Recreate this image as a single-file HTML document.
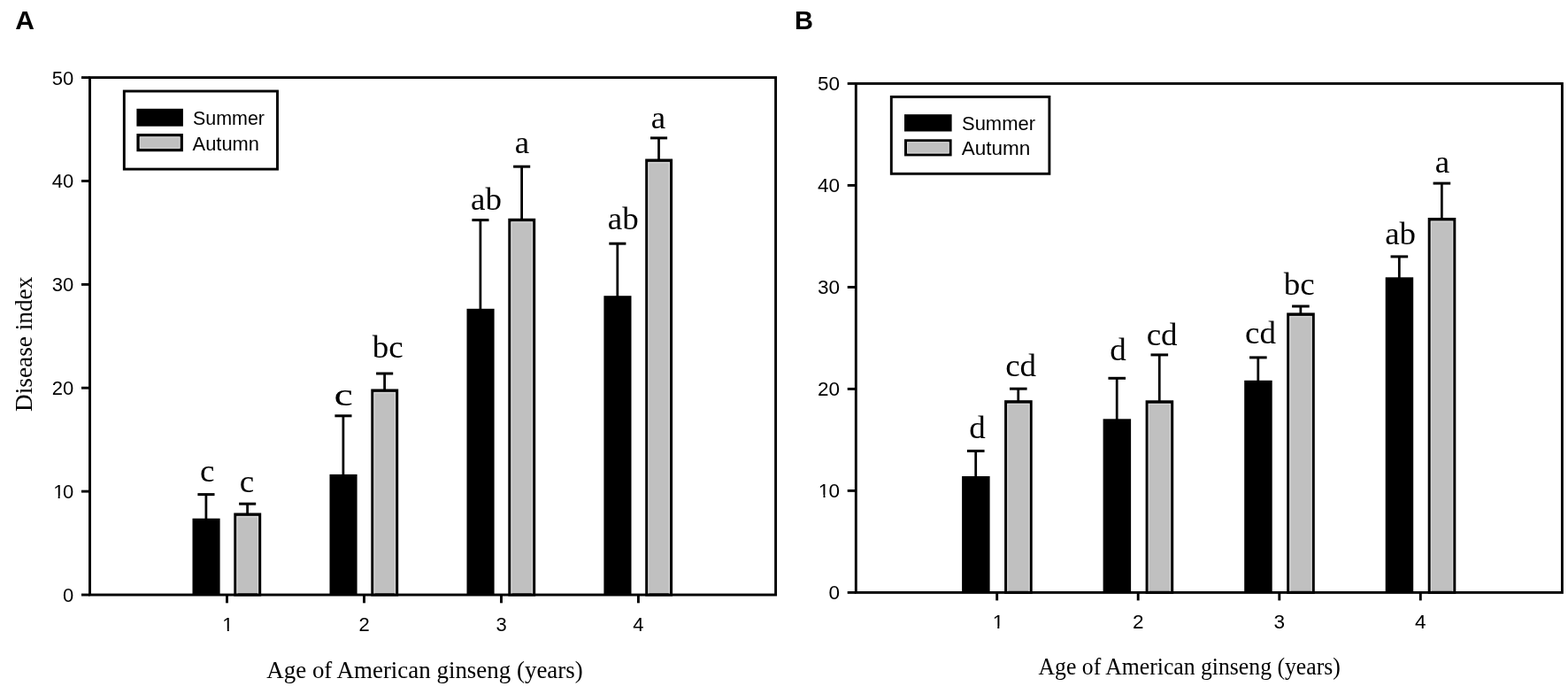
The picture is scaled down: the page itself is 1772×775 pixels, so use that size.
<!DOCTYPE html>
<html><head><meta charset="utf-8"><title>Disease index chart</title>
<style>html,body{margin:0;padding:0;background:#fff;}body{width:1772px;height:775px;overflow:hidden;}svg{display:block;}</style>
</head><body>
<svg width="1772" height="775" viewBox="0 0 1772 775">
<rect x="0" y="0" width="1772" height="775" fill="#fff"/>
<line x1="232.90" y1="586.70" x2="232.90" y2="558.60" stroke="#000" stroke-width="2.75"/>
<line x1="223.40" y1="558.60" x2="242.50" y2="558.60" stroke="#000" stroke-width="3.0"/>
<line x1="279.60" y1="580.50" x2="279.60" y2="569.20" stroke="#000" stroke-width="2.75"/>
<line x1="270.10" y1="569.20" x2="289.20" y2="569.20" stroke="#000" stroke-width="3.0"/>
<rect x="217.50" y="585.70" width="31.10" height="86.30" fill="#000"/>
<rect x="265.85" y="581.05" width="27.80" height="90.90" fill="#c0c0c0" stroke="#000" stroke-width="3.1"/>
<rect x="267.20" y="582.40" width="25.10" height="0.70" fill="#000"/>
<rect x="268.00" y="583.70" width="23.50" height="88.30" fill="none" stroke="#d8d8d8" stroke-width="1.2"/>
<line x1="387.90" y1="536.90" x2="387.90" y2="469.80" stroke="#000" stroke-width="2.75"/>
<line x1="378.40" y1="469.80" x2="397.50" y2="469.80" stroke="#000" stroke-width="3.0"/>
<line x1="434.60" y1="440.50" x2="434.60" y2="422.00" stroke="#000" stroke-width="2.75"/>
<line x1="425.10" y1="422.00" x2="444.20" y2="422.00" stroke="#000" stroke-width="3.0"/>
<rect x="372.50" y="535.90" width="31.10" height="136.10" fill="#000"/>
<rect x="420.85" y="441.05" width="27.80" height="230.90" fill="#c0c0c0" stroke="#000" stroke-width="3.1"/>
<rect x="422.20" y="442.40" width="25.10" height="0.70" fill="#000"/>
<rect x="423.00" y="443.70" width="23.50" height="228.30" fill="none" stroke="#d8d8d8" stroke-width="1.2"/>
<line x1="542.90" y1="349.80" x2="542.90" y2="248.60" stroke="#000" stroke-width="2.75"/>
<line x1="533.40" y1="248.60" x2="552.50" y2="248.60" stroke="#000" stroke-width="3.0"/>
<line x1="589.60" y1="247.80" x2="589.60" y2="188.20" stroke="#000" stroke-width="2.75"/>
<line x1="580.10" y1="188.20" x2="599.20" y2="188.20" stroke="#000" stroke-width="3.0"/>
<rect x="527.50" y="348.80" width="31.10" height="323.20" fill="#000"/>
<rect x="575.85" y="248.35" width="27.80" height="423.60" fill="#c0c0c0" stroke="#000" stroke-width="3.1"/>
<rect x="577.20" y="249.70" width="25.10" height="0.70" fill="#000"/>
<rect x="578.00" y="251.00" width="23.50" height="421.00" fill="none" stroke="#d8d8d8" stroke-width="1.2"/>
<line x1="697.80" y1="335.20" x2="697.80" y2="275.20" stroke="#000" stroke-width="2.75"/>
<line x1="688.30" y1="275.20" x2="707.40" y2="275.20" stroke="#000" stroke-width="3.0"/>
<line x1="744.50" y1="180.50" x2="744.50" y2="155.90" stroke="#000" stroke-width="2.75"/>
<line x1="735.00" y1="155.90" x2="754.10" y2="155.90" stroke="#000" stroke-width="3.0"/>
<rect x="682.40" y="334.20" width="31.10" height="337.80" fill="#000"/>
<rect x="730.75" y="181.05" width="27.80" height="490.90" fill="#c0c0c0" stroke="#000" stroke-width="3.1"/>
<rect x="732.10" y="182.40" width="25.10" height="0.70" fill="#000"/>
<rect x="732.90" y="183.70" width="23.50" height="488.30" fill="none" stroke="#d8d8d8" stroke-width="1.2"/>
<rect x="101.50" y="87.60" width="775.10" height="584.40" fill="none" stroke="#000" stroke-width="2.9"/>
<line x1="92.00" y1="672.00" x2="101.50" y2="672.00" stroke="#000" stroke-width="2.9"/>
<text x="83.20" y="679.90" font-family='"Liberation Sans", Arial, sans-serif' font-size="22" font-weight="normal" text-anchor="end" >0</text>
<line x1="92.00" y1="555.12" x2="101.50" y2="555.12" stroke="#000" stroke-width="2.9"/>
<text x="58.73" y="563.02" font-family='"Liberation Sans", Arial, sans-serif' font-size="22" font-weight="normal" text-anchor="start" dx="1.4 -1.4">10</text>
<rect x="60.21" y="560.28" width="5.46" height="3.74" fill="#fff"/>
<rect x="67.61" y="560.28" width="4.88" height="3.74" fill="#fff"/>
<line x1="92.00" y1="438.24" x2="101.50" y2="438.24" stroke="#000" stroke-width="2.9"/>
<text x="83.20" y="446.14" font-family='"Liberation Sans", Arial, sans-serif' font-size="22" font-weight="normal" text-anchor="end" >20</text>
<line x1="92.00" y1="321.36" x2="101.50" y2="321.36" stroke="#000" stroke-width="2.9"/>
<text x="83.20" y="329.26" font-family='"Liberation Sans", Arial, sans-serif' font-size="22" font-weight="normal" text-anchor="end" >30</text>
<line x1="92.00" y1="204.48" x2="101.50" y2="204.48" stroke="#000" stroke-width="2.9"/>
<text x="83.20" y="212.38" font-family='"Liberation Sans", Arial, sans-serif' font-size="22" font-weight="normal" text-anchor="end" >40</text>
<line x1="92.00" y1="87.60" x2="101.50" y2="87.60" stroke="#000" stroke-width="2.9"/>
<text x="83.20" y="95.50" font-family='"Liberation Sans", Arial, sans-serif' font-size="22" font-weight="normal" text-anchor="end" >50</text>
<line x1="256.50" y1="672.00" x2="256.50" y2="681.30" stroke="#000" stroke-width="2.9"/>
<text x="257.40" y="713.20" font-family='"Liberation Sans", Arial, sans-serif' font-size="22" font-weight="normal" text-anchor="middle" >1</text>
<rect x="251.36" y="710.46" width="5.46" height="3.74" fill="#fff"/>
<rect x="258.76" y="710.46" width="4.88" height="3.74" fill="#fff"/>
<line x1="411.50" y1="672.00" x2="411.50" y2="681.30" stroke="#000" stroke-width="2.9"/>
<text x="411.50" y="713.20" font-family='"Liberation Sans", Arial, sans-serif' font-size="22" font-weight="normal" text-anchor="middle" >2</text>
<line x1="566.50" y1="672.00" x2="566.50" y2="681.30" stroke="#000" stroke-width="2.9"/>
<text x="566.50" y="713.20" font-family='"Liberation Sans", Arial, sans-serif' font-size="22" font-weight="normal" text-anchor="middle" >3</text>
<line x1="721.40" y1="672.00" x2="721.40" y2="681.30" stroke="#000" stroke-width="2.9"/>
<text x="721.40" y="713.20" font-family='"Liberation Sans", Arial, sans-serif' font-size="22" font-weight="normal" text-anchor="middle" >4</text>
<rect x="140.30" y="103.00" width="173.20" height="88.10" fill="#fff" stroke="#000" stroke-width="2.9"/>
<rect x="154.40" y="122.80" width="52.50" height="19.90" fill="#000"/>
<rect x="156.10" y="152.70" width="49.10" height="16.80" fill="#c0c0c0" stroke="#000" stroke-width="3.4"/>
<rect x="158.30" y="154.90" width="44.70" height="12.40" fill="none" stroke="#dadada" stroke-width="1.0"/>
<text x="218.00" y="141.00" font-family='"Liberation Sans", Arial, sans-serif' font-size="21.5" font-weight="normal" text-anchor="start" textLength="81.0" lengthAdjust="spacingAndGlyphs">Summer</text>
<text x="217.60" y="169.80" font-family='"Liberation Sans", Arial, sans-serif' font-size="21.5" font-weight="normal" text-anchor="start" textLength="75.3" lengthAdjust="spacingAndGlyphs">Autumn</text>
<text x="0" y="0" transform="translate(234.15 543.60) scale(1.0 0.95)" font-family='"Liberation Serif", "Times New Roman", serif' font-size="37" text-anchor="middle">c</text>
<text x="0" y="0" transform="translate(279.05 555.60) scale(1.0 0.95)" font-family='"Liberation Serif", "Times New Roman", serif' font-size="37" text-anchor="middle">c</text>
<text x="0" y="0" transform="translate(388.15 458.00) scale(1.3 0.98)" font-family='"Liberation Serif", "Times New Roman", serif' font-size="37" text-anchor="middle">c</text>
<text x="0" y="0" transform="translate(438.15 403.90) scale(1.0 0.95)" font-family='"Liberation Serif", "Times New Roman", serif' font-size="37" text-anchor="middle">bc</text>
<text x="0" y="0" transform="translate(549.55 236.70) scale(1.0 0.95)" font-family='"Liberation Serif", "Times New Roman", serif' font-size="37" text-anchor="middle">ab</text>
<text x="0" y="0" transform="translate(589.85 173.30) scale(1.0 0.95)" font-family='"Liberation Serif", "Times New Roman", serif' font-size="37" text-anchor="middle">a</text>
<text x="0" y="0" transform="translate(704.25 258.60) scale(1.0 0.95)" font-family='"Liberation Serif", "Times New Roman", serif' font-size="37" text-anchor="middle">ab</text>
<text x="0" y="0" transform="translate(743.85 145.40) scale(1.0 0.95)" font-family='"Liberation Serif", "Times New Roman", serif' font-size="37" text-anchor="middle">a</text>
<text x="17.20" y="33.40" font-family='"Liberation Sans", Arial, sans-serif' font-size="30" font-weight="bold" text-anchor="start" >A</text>
<text x="301.30" y="765.70" font-family='"Liberation Serif", "Times New Roman", serif' font-size="27" font-weight="normal" text-anchor="start" textLength="357.4" lengthAdjust="spacingAndGlyphs">Age of American ginseng (years)</text>
<line x1="1102.70" y1="539.00" x2="1102.70" y2="509.50" stroke="#000" stroke-width="2.75"/>
<line x1="1092.95" y1="509.50" x2="1112.55" y2="509.50" stroke="#000" stroke-width="3.0"/>
<line x1="1150.75" y1="453.20" x2="1150.75" y2="439.20" stroke="#000" stroke-width="2.75"/>
<line x1="1141.00" y1="439.20" x2="1160.60" y2="439.20" stroke="#000" stroke-width="3.0"/>
<rect x="1087.10" y="538.00" width="31.50" height="131.40" fill="#000"/>
<rect x="1136.65" y="453.75" width="28.50" height="215.60" fill="#c0c0c0" stroke="#000" stroke-width="3.1"/>
<rect x="1138.00" y="455.10" width="25.80" height="0.70" fill="#000"/>
<rect x="1138.80" y="456.40" width="24.20" height="213.00" fill="none" stroke="#d8d8d8" stroke-width="1.2"/>
<line x1="1262.20" y1="474.30" x2="1262.20" y2="427.30" stroke="#000" stroke-width="2.75"/>
<line x1="1252.45" y1="427.30" x2="1272.05" y2="427.30" stroke="#000" stroke-width="3.0"/>
<line x1="1310.25" y1="453.30" x2="1310.25" y2="400.90" stroke="#000" stroke-width="2.75"/>
<line x1="1300.50" y1="400.90" x2="1320.10" y2="400.90" stroke="#000" stroke-width="3.0"/>
<rect x="1246.60" y="473.30" width="31.50" height="196.10" fill="#000"/>
<rect x="1296.15" y="453.85" width="28.50" height="215.50" fill="#c0c0c0" stroke="#000" stroke-width="3.1"/>
<rect x="1297.50" y="455.20" width="25.80" height="0.70" fill="#000"/>
<rect x="1298.30" y="456.50" width="24.20" height="212.90" fill="none" stroke="#d8d8d8" stroke-width="1.2"/>
<line x1="1421.80" y1="430.80" x2="1421.80" y2="403.90" stroke="#000" stroke-width="2.75"/>
<line x1="1412.05" y1="403.90" x2="1431.65" y2="403.90" stroke="#000" stroke-width="3.0"/>
<line x1="1469.85" y1="354.40" x2="1469.85" y2="346.00" stroke="#000" stroke-width="2.75"/>
<line x1="1460.10" y1="346.00" x2="1479.70" y2="346.00" stroke="#000" stroke-width="3.0"/>
<rect x="1406.20" y="429.80" width="31.50" height="239.60" fill="#000"/>
<rect x="1455.75" y="354.95" width="28.50" height="314.40" fill="#c0c0c0" stroke="#000" stroke-width="3.1"/>
<rect x="1457.10" y="356.30" width="25.80" height="0.70" fill="#000"/>
<rect x="1457.90" y="357.60" width="24.20" height="311.80" fill="none" stroke="#d8d8d8" stroke-width="1.2"/>
<line x1="1581.30" y1="314.30" x2="1581.30" y2="289.90" stroke="#000" stroke-width="2.75"/>
<line x1="1571.55" y1="289.90" x2="1591.15" y2="289.90" stroke="#000" stroke-width="3.0"/>
<line x1="1629.35" y1="247.00" x2="1629.35" y2="207.10" stroke="#000" stroke-width="2.75"/>
<line x1="1619.60" y1="207.10" x2="1639.20" y2="207.10" stroke="#000" stroke-width="3.0"/>
<rect x="1565.70" y="313.30" width="31.50" height="356.10" fill="#000"/>
<rect x="1615.25" y="247.55" width="28.50" height="421.80" fill="#c0c0c0" stroke="#000" stroke-width="3.1"/>
<rect x="1616.60" y="248.90" width="25.80" height="0.70" fill="#000"/>
<rect x="1617.40" y="250.20" width="24.20" height="419.20" fill="none" stroke="#d8d8d8" stroke-width="1.2"/>
<rect x="967.30" y="94.40" width="798.10" height="575.00" fill="none" stroke="#000" stroke-width="2.9"/>
<line x1="957.70" y1="669.40" x2="967.30" y2="669.40" stroke="#000" stroke-width="2.9"/>
<text x="949.00" y="676.70" font-family='"Liberation Sans", Arial, sans-serif' font-size="22.5" font-weight="normal" text-anchor="end" >0</text>
<line x1="957.70" y1="554.40" x2="967.30" y2="554.40" stroke="#000" stroke-width="2.9"/>
<text x="923.97" y="561.70" font-family='"Liberation Sans", Arial, sans-serif' font-size="22.5" font-weight="normal" text-anchor="start" dx="0.9 -0.9">10</text>
<rect x="924.99" y="558.92" width="5.54" height="3.78" fill="#fff"/>
<rect x="932.52" y="558.92" width="4.97" height="3.78" fill="#fff"/>
<line x1="957.70" y1="439.40" x2="967.30" y2="439.40" stroke="#000" stroke-width="2.9"/>
<text x="949.00" y="446.70" font-family='"Liberation Sans", Arial, sans-serif' font-size="22.5" font-weight="normal" text-anchor="end" >20</text>
<line x1="957.70" y1="324.40" x2="967.30" y2="324.40" stroke="#000" stroke-width="2.9"/>
<text x="949.00" y="331.70" font-family='"Liberation Sans", Arial, sans-serif' font-size="22.5" font-weight="normal" text-anchor="end" >30</text>
<line x1="957.70" y1="209.40" x2="967.30" y2="209.40" stroke="#000" stroke-width="2.9"/>
<text x="949.00" y="216.70" font-family='"Liberation Sans", Arial, sans-serif' font-size="22.5" font-weight="normal" text-anchor="end" >40</text>
<line x1="957.70" y1="94.40" x2="967.30" y2="94.40" stroke="#000" stroke-width="2.9"/>
<text x="949.00" y="101.70" font-family='"Liberation Sans", Arial, sans-serif' font-size="22.5" font-weight="normal" text-anchor="end" >50</text>
<line x1="1126.70" y1="669.40" x2="1126.70" y2="678.40" stroke="#000" stroke-width="2.9"/>
<text x="1127.90" y="710.40" font-family='"Liberation Sans", Arial, sans-serif' font-size="22.5" font-weight="normal" text-anchor="middle" >1</text>
<rect x="1121.76" y="707.62" width="5.54" height="3.78" fill="#fff"/>
<rect x="1129.29" y="707.62" width="4.97" height="3.78" fill="#fff"/>
<line x1="1286.20" y1="669.40" x2="1286.20" y2="678.40" stroke="#000" stroke-width="2.9"/>
<text x="1286.20" y="710.40" font-family='"Liberation Sans", Arial, sans-serif' font-size="22.5" font-weight="normal" text-anchor="middle" >2</text>
<line x1="1445.80" y1="669.40" x2="1445.80" y2="678.40" stroke="#000" stroke-width="2.9"/>
<text x="1445.80" y="710.40" font-family='"Liberation Sans", Arial, sans-serif' font-size="22.5" font-weight="normal" text-anchor="middle" >3</text>
<line x1="1605.30" y1="669.40" x2="1605.30" y2="678.40" stroke="#000" stroke-width="2.9"/>
<text x="1605.30" y="710.40" font-family='"Liberation Sans", Arial, sans-serif' font-size="22.5" font-weight="normal" text-anchor="middle" >4</text>
<rect x="1007.30" y="109.40" width="178.60" height="86.90" fill="#fff" stroke="#000" stroke-width="2.9"/>
<rect x="1022.00" y="129.20" width="53.60" height="19.30" fill="#000"/>
<rect x="1023.50" y="158.80" width="50.60" height="16.10" fill="#c0c0c0" stroke="#000" stroke-width="3.0"/>
<rect x="1025.50" y="160.80" width="46.60" height="12.10" fill="none" stroke="#dadada" stroke-width="1.0"/>
<text x="1087.00" y="147.40" font-family='"Liberation Sans", Arial, sans-serif' font-size="22.3" font-weight="normal" text-anchor="start" textLength="83.0" lengthAdjust="spacingAndGlyphs">Summer</text>
<text x="1086.70" y="175.20" font-family='"Liberation Sans", Arial, sans-serif' font-size="22.3" font-weight="normal" text-anchor="start" textLength="77.6" lengthAdjust="spacingAndGlyphs">Autumn</text>
<text x="0" y="0" transform="translate(1104.40 495.30) scale(1.0 0.985)" font-family='"Liberation Serif", "Times New Roman", serif' font-size="37" text-anchor="middle">d</text>
<text x="0" y="0" transform="translate(1153.60 425.40) scale(1.0 0.985)" font-family='"Liberation Serif", "Times New Roman", serif' font-size="37" text-anchor="middle">cd</text>
<text x="0" y="0" transform="translate(1263.40 407.30) scale(1.0 0.985)" font-family='"Liberation Serif", "Times New Roman", serif' font-size="37" text-anchor="middle">d</text>
<text x="0" y="0" transform="translate(1313.10 389.70) scale(1.0 0.985)" font-family='"Liberation Serif", "Times New Roman", serif' font-size="37" text-anchor="middle">cd</text>
<text x="0" y="0" transform="translate(1424.50 387.50) scale(1.0 0.985)" font-family='"Liberation Serif", "Times New Roman", serif' font-size="37" text-anchor="middle">cd</text>
<text x="0" y="0" transform="translate(1468.30 332.60) scale(1.0 0.985)" font-family='"Liberation Serif", "Times New Roman", serif' font-size="37" text-anchor="middle">bc</text>
<text x="0" y="0" transform="translate(1582.60 276.10) scale(1.0 0.985)" font-family='"Liberation Serif", "Times New Roman", serif' font-size="37" text-anchor="middle">ab</text>
<text x="0" y="0" transform="translate(1629.90 194.50) scale(1.0 0.985)" font-family='"Liberation Serif", "Times New Roman", serif' font-size="37" text-anchor="middle">a</text>
<text x="898.00" y="33.30" font-family='"Liberation Sans", Arial, sans-serif' font-size="29" font-weight="bold" text-anchor="start" >B</text>
<text x="1173.50" y="761.70" font-family='"Liberation Serif", "Times New Roman", serif' font-size="26.5" font-weight="normal" text-anchor="start" textLength="341.3" lengthAdjust="spacingAndGlyphs">Age of American ginseng (years)</text>
<text x="0" y="0" transform="translate(35.8 388.8) rotate(-90)" font-family='"Liberation Serif", "Times New Roman", serif' font-size="27.5" text-anchor="middle" textLength="152.3" lengthAdjust="spacingAndGlyphs">Disease index</text>
</svg>
</body></html>
